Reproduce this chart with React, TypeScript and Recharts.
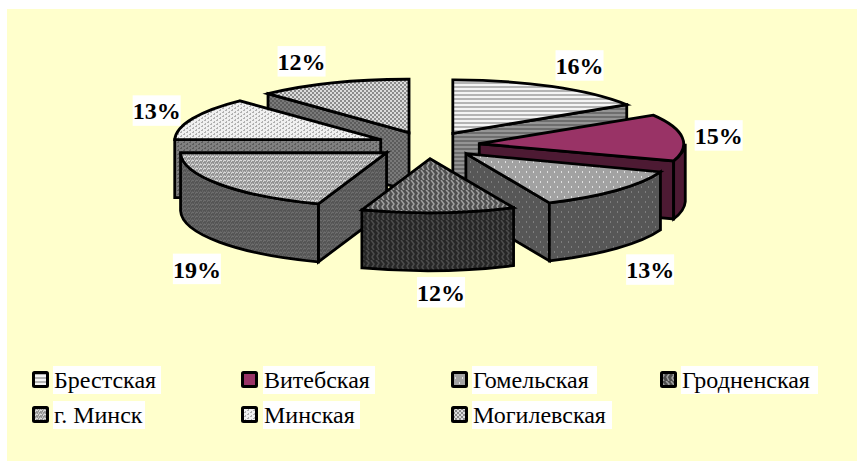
import React from "react";
import { PieChart, Pie, Legend } from "recharts";

const CATEGORIES = ["Брестская", "Витебская", "Гомельская", "Гродненская", "г. Минск", "Минская", "Могилевская"];
const SHARES = [16, 15, 13, 12, 19, 13, 12];
const PAINT_ORDER = ["Брестская", "Могилевская", "Витебская", "Минская", "Гомельская", "г. Минск", "Гродненская"];
const PATTERN_IDS = ["brest", "vitebsk", "gomel", "grodno", "minsk", "minskobl", "mogilev"];

const rows = CATEGORIES.map((name, i) => ({ name, value: SHARES[i], idx: i }));

const W = 857, H = 461;
const CX = 428, CY = 145, R = 206, SQUASH = 0.267, EXPLODE = 0.25, DEPTH = 58;
const FONT = "'Liberation Serif', 'Times New Roman', serif";
const LABEL_NUDGE: [number, number][] = [[7, -9], [-8, -29], [10, 13], [13, 2], [17, 29], [4, -19], [-16, -7]];
const LEGEND_LAYOUT = [
  { sx: 32, tx: 53, tw: 108, y: 366 },
  { sx: 241, tx: 263, tw: 112, y: 366 },
  { sx: 451, tx: 472, tw: 125, y: 366 },
  { sx: 660, tx: 681, tw: 137, y: 366 },
  { sx: 32, tx: 53, tw: 92, y: 401 },
  { sx: 241, tx: 263, tw: 97, y: 401 },
  { sx: 451, tx: 472, tw: 140, y: 401 },
];

const rad = (d: number) => (d * Math.PI) / 180;

// Slight perspective of the 3-D projection: the near rim leans to the right.
const warp = (x: number, y: number, cx: number, cy: number): [number, number] => {
  if (y >= cy) {
    return [x + 0.15 * (y - cy), y - Math.min(3, 0.03 * Math.max(0, x - cx))];
  }
  return [x, y + 0.03 * (cy - y)];
};

function Slice(props: any) {
  const { cx, cy, outerRadius: r, startAngle, endAngle, midAngle, payload } = props;
  const idx = payload.idx;
  const id = PATTERN_IDS[idx];
  const s = 90 - startAngle;
  const e = 90 - endAngle;
  const m = 90 - midAngle;
  const rx = r;
  const ry = r * SQUASH;
  const ox = cx + EXPLODE * rx * Math.sin(rad(m));
  const oy = cy - EXPLODE * ry * Math.cos(rad(m));
  const [ax, ay] = warp(ox, oy, cx, cy);
  const pt = (a: number): [number, number] =>
    warp(ox + rx * Math.sin(rad(a)), oy - ry * Math.cos(rad(a)), cx, cy);
  const [sx, sy] = pt(s);
  const [ex, ey] = pt(e);
  const strokeProps = { stroke: "#000", strokeWidth: 2.8, strokeLinejoin: "miter" as const };
  const walls: React.ReactNode[] = [];
  const wallFill = `url(#${id}-side)`;
  const edge = (x: number, y: number, key: string) => (
    <path key={key} d={`M${ax} ${ay} L${x} ${y} L${x} ${y + DEPTH} L${ax} ${ay + DEPTH} Z`} fill={wallFill} {...strokeProps} />
  );
  if (Math.sin(rad(s)) < -1e-6) walls.push(edge(sx, sy, "s"));
  if (Math.sin(rad(e)) > 1e-6) walls.push(edge(ex, ey, "e"));
  const a1 = Math.max(s, 90);
  const a2 = Math.min(e, 270);
  if (a2 > a1) {
    const [x1, y1] = pt(a1);
    const [x2, y2] = pt(a2);
    walls.push(
      <path
        key="o"
        d={`M${x1} ${y1} A${rx} ${ry} 0 0 1 ${x2} ${y2} L${x2} ${y2 + DEPTH} A${rx} ${ry} 0 0 0 ${x1} ${y1 + DEPTH} Z`}
        fill={wallFill}
        {...strokeProps}
      />
    );
  }
  return (
    <g>
      {walls}
      <path d={`M${ax} ${ay} L${sx} ${sy} A${rx} ${ry} 0 0 1 ${ex} ${ey} Z`} fill={`url(#${id}-top)`} {...strokeProps} />
    </g>
  );
}

const layerShape = (layer: string) => (props: any) =>
  props.payload.name === layer ? <Slice {...props} /> : <g />;

const layerLabel = (layer: string) => (props: any) => {
  const { midAngle, cx, cy, value, name } = props;
  if (name !== layer) return <g />;
  const idx = CATEGORIES.indexOf(name);
  const m = 90 - midAngle;
  const x = cx + 300 * Math.sin(rad(m)) + LABEL_NUDGE[idx][0];
  const y = cy + 30 - 115 * Math.cos(rad(m)) + LABEL_NUDGE[idx][1];
  return (
    <g>
      <rect x={x - 24} y={y - 15} width={48} height={30.5} fill="#fff" />
      <text x={x} y={y + 9} textAnchor="middle" fontFamily={FONT} fontWeight="bold" fontSize={24} fill="#000">
        {`${value}%`}
      </text>
    </g>
  );
};

const Stripe = ({ id, a, b }: { id: string; a: string; b: string }) => (
  <pattern id={id} width={4} height={4} patternUnits="userSpaceOnUse">
    <rect width={4} height={4} fill={a} />
    <rect y={2} width={4} height={2} fill={b} />
  </pattern>
);
const Dots = ({ id, a, b }: { id: string; a: string; b: string }) => (
  <pattern id={id} width={7} height={10} patternUnits="userSpaceOnUse">
    <rect width={7} height={10} fill={a} />
    <rect x={1} y={1} width={1} height={2} fill={b} />
    <rect x={4} y={6} width={1} height={2} fill={b} />
  </pattern>
);
const Waves = ({ id, a, b }: { id: string; a: string; b: string }) => (
  <pattern id={id} width={10} height={10} patternUnits="userSpaceOnUse">
    <rect width={10} height={10} fill={a} />
    <path d="M1 0 L4 4 L2 7 L4 10 M6 0 L9 3 L7 6 L9 10" fill="none" stroke={b} strokeWidth={1.5} />
  </pattern>
);
const Hatch = ({ id, a, b }: { id: string; a: string; b: string }) => (
  <pattern id={id} width={4} height={4} patternUnits="userSpaceOnUse">
    <rect width={4} height={4} fill={a} />
    <path d="M0 3 L1 1 M1 4 L3 0 M3 4 L4 2" stroke={b} strokeWidth={1.2} fill="none" />
  </pattern>
);
const Speckle = ({ id, a, b }: { id: string; a: string; b: string }) => (
  <pattern id={id} width={6} height={4} patternUnits="userSpaceOnUse">
    <rect width={6} height={4} fill={a} />
    <rect x={0} y={0} width={2} height={1} fill={b} />
    <rect x={3} y={2} width={2} height={1} fill={b} />
    <rect x={4} y={1} width={1} height={1} fill={b} />
    <rect x={1} y={3} width={1} height={1} fill={b} />
  </pattern>
);
const Checker = ({ id, a, b }: { id: string; a: string; b: string }) => (
  <pattern id={id} width={4} height={4} patternUnits="userSpaceOnUse">
    <rect width={4} height={4} fill={a} />
    <rect x={0} y={0} width={2} height={2} fill={b} />
    <rect x={2} y={2} width={2} height={2} fill={b} />
  </pattern>
);

const Patterns = () => (
  <defs>
    <Stripe id="brest-top" a="#f4f4f4" b="#b4b4b4" />
    <Stripe id="brest-side" a="#6e6e6e" b="#949494" />
    <pattern id="vitebsk-top" width={4} height={4} patternUnits="userSpaceOnUse"><rect width={4} height={4} fill="#993366" /></pattern>
    <pattern id="vitebsk-side" width={4} height={4} patternUnits="userSpaceOnUse"><rect width={4} height={4} fill="#4d1a33" /></pattern>
    <Dots id="gomel-top" a="#a2a2a2" b="#e0e0e0" />
    <Dots id="gomel-side" a="#575757" b="#7e7e7e" />
    <Waves id="grodno-top" a="#4e4e4e" b="#a0a0a0" />
    <Waves id="grodno-side" a="#262626" b="#4c4c4c" />
    <Hatch id="minsk-top" a="#e0e0e0" b="#8a8a8a" />
    <Hatch id="minsk-side" a="#707070" b="#525252" />
    <Speckle id="minskobl-top" a="#f0f0f0" b="#b0b0b0" />
    <Speckle id="minskobl-side" a="#808080" b="#5c5c5c" />
    <Checker id="mogilev-top" a="#dcdcdc" b="#8c8c8c" />
    <Checker id="mogilev-side" a="#7a7a7a" b="#5c5c5c" />
  </defs>
);

const LegendBlock = () => (
  <div style={{ position: "relative", width: W, height: H, pointerEvents: "none" }}>
    {CATEGORIES.map((name, i) => {
      const l = LEGEND_LAYOUT[i];
      return (
        <React.Fragment key={name}>
          <svg width={17} height={17} style={{ position: "absolute", left: l.sx, top: l.y + 5 }}>
            <rect x={1.5} y={1.5} width={14} height={14} rx={1} fill={`url(#${PATTERN_IDS[i]}-top)`} stroke="#000" strokeWidth={3} />
          </svg>
          <div
            style={{
              position: "absolute",
              left: l.tx,
              top: l.y,
              width: l.tw,
              height: 27.5,
              background: "#fff",
              fontFamily: FONT,
              fontSize: 24,
              lineHeight: "28px",
              paddingLeft: 1,
              boxSizing: "border-box",
              whiteSpace: "pre",
              color: "#000",
            }}
          >
            {name}
          </div>
        </React.Fragment>
      );
    })}
  </div>
);

export default function App() {
  return (
    <div style={{ position: "absolute", left: 0, top: 0, width: W, height: H, overflow: "hidden", background: "#fff" }}>
      <div style={{ position: "absolute", left: 7, top: 9, right: 0, bottom: 0, background: "#FFFFCC" }} />
      <PieChart width={W} height={H} margin={{ top: 0, right: 0, bottom: 0, left: 0 }} style={{ position: "absolute", left: 0, top: 0 }}>
        <Patterns />
        {PAINT_ORDER.map((layer) => (
          <Pie
            key={layer}
            data={rows}
            dataKey="value"
            nameKey="name"
            cx={CX}
            cy={CY}
            innerRadius={0}
            outerRadius={R}
            startAngle={90}
            endAngle={-270}
            stroke="none"
            isAnimationActive={false}
            legendType="none"
            shape={layerShape(layer)}
            label={layerLabel(layer)}
            labelLine={false}
          />
        ))}
        <Legend
          layout="horizontal"
          verticalAlign="middle"
          align="center"
          content={() => <LegendBlock />}
          wrapperStyle={{ left: 0, top: 0, width: W, height: H, margin: 0 }}
        />
      </PieChart>
    </div>
  );
}
